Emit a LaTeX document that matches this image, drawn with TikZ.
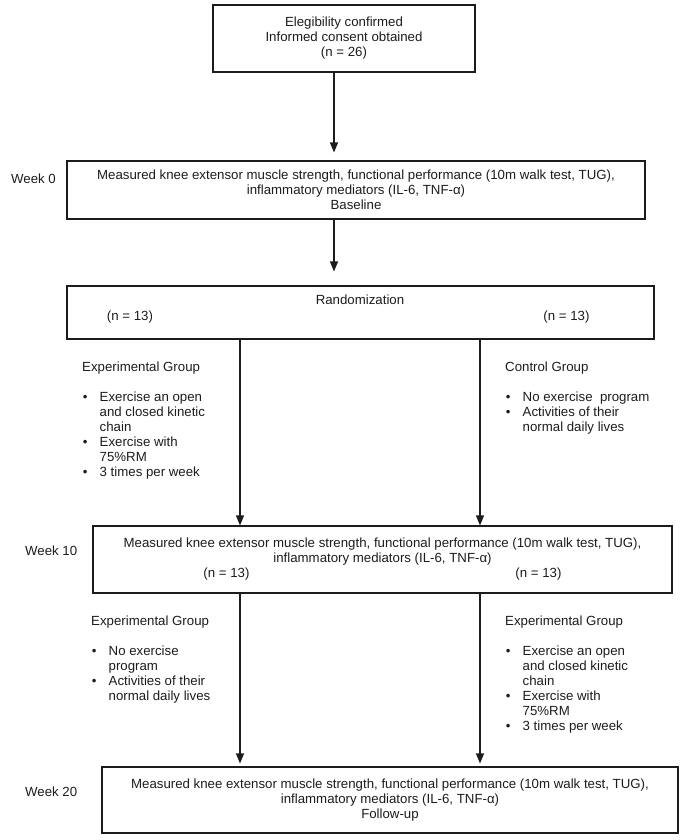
\documentclass[tikz,border=0pt]{standalone}
\usepackage{fontspec}
\setmainfont{Liberation Sans}
\usepackage{xcolor}
\usepackage{tikz}
\usetikzlibrary{arrows.meta}
\definecolor{ink}{HTML}{1C1C1C}
\newcommand{\bul}{\makebox[17.5bp][l]{\hspace{0.7bp}\textbullet}}
\newcommand{\ind}{\hspace*{17.5bp}}
\tikzset{
  lbl/.style={text=ink, font=\fontsize{13.3}{15}\selectfont, inner sep=0pt},
  box/.style={draw=ink, line width=1.1pt, lbl, align=center},
  arr/.style={draw=ink, line width=1.1pt, -{Triangle[length=10bp,width=8bp]}},
  grp/.style={lbl, align=left, anchor=north west},
  wk/.style={lbl, anchor=west}
}
\begin{document}
\begin{tikzpicture}[x=1bp, y=-1bp]
  \useasboundingbox (0,0) rectangle (685,840);
  % pixel grid, y runs downwards
  \coordinate (trunk) at (334,0);
  \coordinate (colL) at (240,0);
  \coordinate (colR) at (480,0);

  \node[box, minimum width=262bp, minimum height=67bp] (elig) at (344,38.5)
    {Elegibility confirmed\\Informed consent obtained\\(n = 26)};
  \node[box, minimum width=578bp, minimum height=58bp] (wk0) at (356,190)
    {Measured knee extensor muscle strength, functional performance (10m walk test, TUG),\\
     inflammatory mediators (IL-6, TNF-α)\\Baseline};
  \node[box, minimum width=587bp, minimum height=53bp] (rand) at (360.5,312.5) {};
  \node[box, minimum width=579bp, minimum height=67bp] (wk10) at (382.5,559.5)
    {Measured knee extensor muscle strength, functional performance (10m walk test, TUG),\\
     inflammatory mediators (IL-6, TNF-α)\\
     \makebox[358bp]{(n = 13)\hfill(n = 13)}};
  \node[box, minimum width=576bp, minimum height=66bp] (wk20) at (390,800)
    {Measured knee extensor muscle strength, functional performance (10m walk test, TUG),\\
     inflammatory mediators (IL-6, TNF-α)\\Follow-up};

  \node[lbl] (randT) at (360,300) {Randomization};
  \node[lbl] (randL) at (130,317) {(n = 13)};
  \node[lbl] (randR) at (566.5,317) {(n = 13)};

  \node[wk] (w0) at (11,179) {Week 0};
  \node[wk] (w10) at (25,551) {Week 10};
  \node[wk] (w20) at (25,792) {Week 20};

  % group texts
  \node[grp] (expA) at (82,362) {Experimental Group\\[15bp]
    \bul Exercise an open\\ \ind and closed kinetic\\ \ind chain\\
    \bul Exercise with\\ \ind 75\%RM\\ \bul 3 times per week};
  \node[grp] (ctrlA) at (505,362) {Control Group\\[15bp]
    \bul No exercise~ program\\ \bul Activities of their\\ \ind normal daily lives};
  \node[grp] (expB) at (91,616) {Experimental Group\\[15bp]
    \bul No exercise\\ \ind program\\ \bul Activities of their\\ \ind normal daily lives};
  \node[grp] (expC) at (505,616) {Experimental Group\\[15bp]
    \bul Exercise an open\\ \ind and closed kinetic\\ \ind chain\\
    \bul Exercise with\\ \ind 75\%RM\\ \bul 3 times per week};

  \draw[arr, shorten >=8bp] (elig.south -| trunk) -- (wk0.north -| trunk);
  \draw[arr, shorten >=14bp] (wk0.south -| trunk) -- (rand.north -| trunk);
  \draw[arr] (rand.south -| colL) -- (wk10.north -| colL);
  \draw[arr] (rand.south -| colR) -- (wk10.north -| colR);
  \draw[arr, shorten >=3bp] (wk10.south -| colL) -- (wk20.north -| colL);
  \draw[arr, shorten >=3bp] (wk10.south -| colR) -- (wk20.north -| colR);
\end{tikzpicture}
\end{document}
